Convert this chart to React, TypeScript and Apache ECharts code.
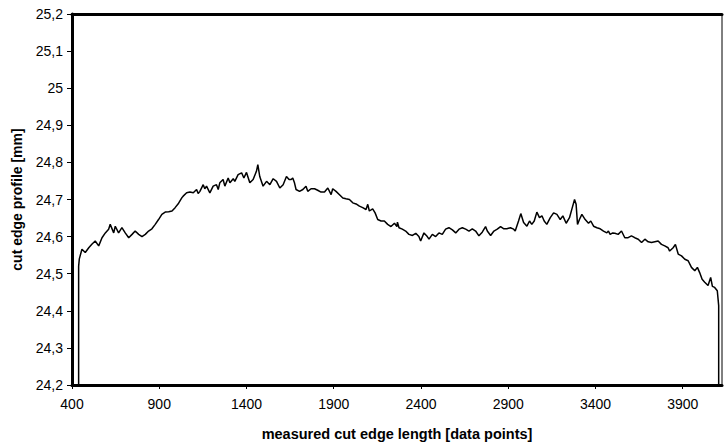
import React, { useEffect, useRef } from "react";
import * as echarts from "echarts";

const xTickLabels = [400, 900, 1400, 1900, 2400, 2900, 3400, 3900];
const yRange = [24.2, 25.2];

const profileX = [
  438, 438, 442, 457, 476, 496, 515, 533, 553, 572, 591, 610, 619, 639, 648, 667, 686, 705, 725, 744, 762, 782, 801, 820, 839, 858, 877, 896, 915, 934, 954, 973, 991, 1011, 1030,
  1037, 1057, 1076, 1095, 1114, 1123, 1133, 1152, 1161, 1171, 1190, 1209, 1228, 1238, 1247, 1266, 1276, 1295, 1305, 1324, 1333, 1352, 1372, 1385, 1400, 1419, 1438, 1457, 1465, 1476, 1495, 1515, 1534, 1553, 1572, 1591, 1610, 1629, 1644,
  1656, 1665, 1675, 1684, 1704, 1723, 1741, 1751, 1770, 1790, 1808, 1827, 1847, 1866, 1885, 1894, 1913, 1933, 1952, 1970, 1990, 2009, 2028, 2047, 2066, 2085, 2095, 2104, 2123, 2137, 2152, 2171, 2190, 2209, 2228, 2248, 2262,
  2265, 2274, 2293, 2312, 2331, 2351, 2370, 2388, 2398, 2417, 2436, 2446, 2465, 2484, 2503, 2522, 2541, 2560, 2580, 2599, 2618, 2637, 2656, 2675, 2694, 2713, 2732, 2751, 2770, 2780, 2799, 2818, 2837, 2856, 2875,
  2892, 2912, 2931, 2940, 2959, 2972, 2988, 3007, 3022, 3035, 3049, 3064, 3079, 3093, 3106, 3121, 3141, 3160, 3179, 3198, 3213, 3232, 3251, 3267, 3280, 3289, 3297, 3308, 3322, 3341, 3360, 3373, 3389, 3408, 3427, 3446, 3465, 3474, 3484, 3499,
  3511, 3530, 3549, 3568, 3587, 3606, 3625, 3645, 3664, 3683, 3702, 3721, 3740, 3759, 3778, 3797, 3816, 3825, 3845, 3858, 3874, 3893, 3912, 3931, 3950, 3969, 3984, 3997, 4011, 4026, 4045, 4060, 4070, 4083, 4098, 4106, 4106,
];

const profileY = [
  24.2, 24.52, 24.54, 24.566, 24.557, 24.57, 24.58, 24.588, 24.575, 24.597, 24.61, 24.62, 24.633, 24.61, 24.628, 24.61, 24.624, 24.61, 24.597, 24.606, 24.615, 24.606, 24.6, 24.606, 24.615, 24.621, 24.633, 24.646, 24.66, 24.666, 24.667, 24.669, 24.678, 24.69, 24.705,
  24.709, 24.718, 24.72, 24.718, 24.727, 24.716, 24.722, 24.74, 24.729, 24.736, 24.718, 24.736, 24.74, 24.727, 24.745, 24.754, 24.736, 24.758, 24.745, 24.756, 24.749, 24.767, 24.772, 24.758, 24.773, 24.745, 24.754, 24.776, 24.794, 24.762, 24.736, 24.749, 24.74, 24.756, 24.749, 24.731, 24.74, 24.762, 24.754,
  24.754, 24.758, 24.745, 24.727, 24.722, 24.727, 24.736, 24.722, 24.729, 24.729, 24.725, 24.72, 24.72, 24.731, 24.713, 24.729, 24.722, 24.713, 24.704, 24.702, 24.7, 24.691, 24.688, 24.682, 24.678, 24.673, 24.687, 24.669, 24.675, 24.664, 24.646, 24.642, 24.642, 24.633, 24.627, 24.636, 24.627,
  24.639, 24.624, 24.62, 24.615, 24.606, 24.603, 24.609, 24.6, 24.588, 24.61, 24.6, 24.593, 24.606, 24.6, 24.61, 24.606, 24.62, 24.624, 24.618, 24.61, 24.62, 24.624, 24.62, 24.615, 24.621, 24.615, 24.602, 24.612, 24.627, 24.615, 24.603, 24.615, 24.62, 24.627, 24.621,
  24.621, 24.624, 24.62, 24.615, 24.642, 24.662, 24.638, 24.628, 24.642, 24.633, 24.642, 24.666, 24.651, 24.656, 24.642, 24.633, 24.651, 24.664, 24.66, 24.646, 24.656, 24.636, 24.651, 24.678, 24.7, 24.687, 24.633, 24.646, 24.66, 24.646, 24.636, 24.642, 24.628, 24.624, 24.621, 24.615, 24.61, 24.615, 24.606, 24.61,
  24.609, 24.606, 24.615, 24.597, 24.597, 24.602, 24.597, 24.593, 24.584, 24.593, 24.586, 24.584, 24.586, 24.588, 24.579, 24.575, 24.57, 24.561, 24.57, 24.579, 24.553, 24.548, 24.539, 24.535, 24.517, 24.508, 24.517, 24.503, 24.485, 24.477, 24.468, 24.49, 24.466, 24.463, 24.454, 24.414, 24.2,
];

export default function App() {
  const ref = useRef<HTMLDivElement>(null);
  useEffect(() => {
    if (!ref.current) return;
    const chart = echarts.init(ref.current, null, { renderer: "svg" });
    const data = profileX.map((x, i) => [x, profileY[i]]);
    const font = "Liberation Sans, Arial, sans-serif";
    chart.setOption({
      animation: false,
      backgroundColor: "#fff",
      grid: {
        left: 72,
        right: 2,
        top: 14,
        bottom: 60,
        show: true,
        borderColor: "#000",
        borderWidth: 1,
      },
      xAxis: [
        {
          type: "value",
          min: xTickLabels[0],
          max: 4125,
          interval: 500,
          name: "measured cut edge length [data points]",
          nameLocation: "middle",
          nameGap: 41,
          nameTextStyle: { fontFamily: font, fontWeight: "bold", fontSize: 14.5, color: "#000" },
          axisLine: { lineStyle: { color: "#000", width: 3 } },
          axisTick: { show: true, length: 4, lineStyle: { color: "#000", width: 1 } },
          axisLabel: {
            showMaxLabel: false,
            margin: 12,
            fontFamily: font,
            fontSize: 14,
            color: "#000",
            formatter: (v: number) => String(v),
          },
          splitLine: { show: false },
        },
        {
          type: "value",
          position: "top",
          min: xTickLabels[0],
          max: 4125,
          interval: 500,
          axisLine: { lineStyle: { color: "#000", width: 3 } },
          axisTick: { show: false },
          axisLabel: { show: false },
          splitLine: { show: false },
        },
      ],
      yAxis: {
        type: "value",
        min: yRange[0],
        max: yRange[1],
        interval: 0.1,
        name: "cut edge profile [mm]",
        nameLocation: "middle",
        nameGap: 48,
        nameTextStyle: { fontFamily: font, fontWeight: "bold", fontSize: 14, color: "#000" },
        axisLine: { lineStyle: { color: "#000", width: 3 } },
        axisTick: { show: true, length: 5, lineStyle: { color: "#000", width: 1 } },
        axisLabel: {
          margin: 9,
          fontFamily: font,
          fontSize: 14,
          color: "#000",
          formatter: (v: number) => String(Math.round(v * 10) / 10).replace(".", ","),
        },
        splitLine: { show: false },
      },
      series: [
        {
          type: "line",
          data,
          xAxisIndex: 0,
          showSymbol: false,
          symbol: "none",
          lineStyle: { color: "#000", width: 1.5 },
          silent: true,
        },
      ],
    });
    return () => chart.dispose();
  }, []);
  return (
    <div
      ref={ref}
      style={{ position: "fixed", left: 0, top: 0, width: 724, height: 446, background: "#fff" }}
    />
  );
}
